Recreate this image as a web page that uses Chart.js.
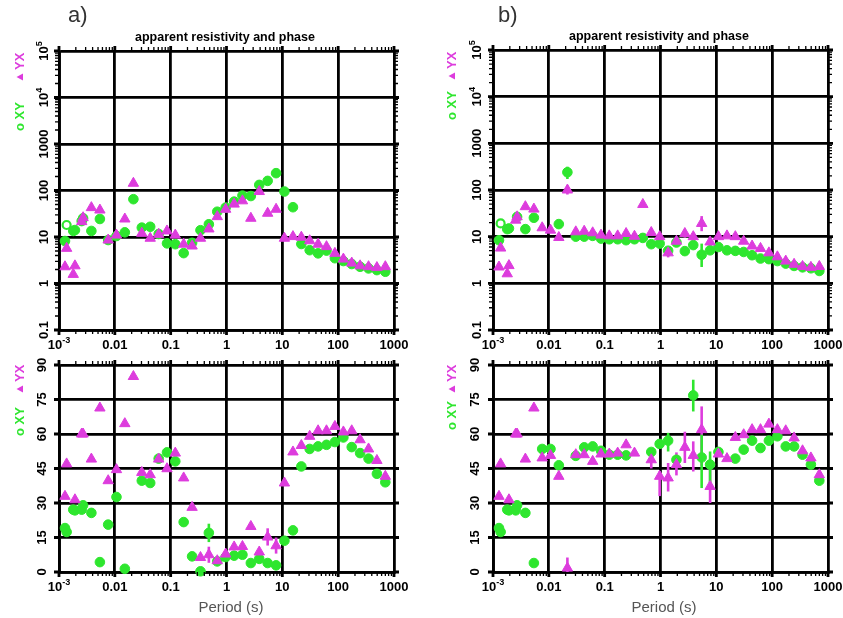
<!DOCTYPE html>
<html lang="en">
<head>
<meta charset="UTF-8" />
<title>Apparent resistivity and phase</title>
<style>
  body { margin: 0; background: #fff; }
  #wrap { position: relative; width: 843px; height: 618px; overflow: hidden; background: #fff; }
  #wrap canvas { position: absolute; }
</style>
</head>
<body>
<div id="wrap">
  <canvas id="aRho" width="420" height="355" style="left:0;top:0"></canvas>
  <canvas id="aPhase" width="420" height="263" style="left:0;top:355px"></canvas>
  <canvas id="bRho" width="423" height="355" style="left:420px;top:0"></canvas>
  <canvas id="bPhase" width="423" height="263" style="left:420px;top:355px"></canvas>
</div>

<script src="https://cdn.jsdelivr.net/npm/chart.js"></script>
<script>
  // axes
  const xTicks = [0.001, 0.01, 0.1, 1, 10, 100, 1000];
  const xTickLabels = ['10^-3', '0.01', '0.1', '1', '10', '100', '1000'];
  const rhoTicks = [0.1, 1, 10, 100, 1000, 10000, 100000];
  const rhoTickLabels = ['0.1', '1', '10', '100', '1000', '10^4', '10^5'];
  const phaseTicks = [0, 15, 30, 45, 60, 75, 90];
  const phaseTickLabels = ['0', '15', '30', '45', '60', '75', '90'];

  // periods (s): main band and the overlapping high-frequency band
  const periods = [0.00128, 0.0018, 0.00255, 0.0038, 0.0054, 0.0076, 0.0107, 0.0151, 0.0215, 0.0304,
    0.043, 0.061, 0.086, 0.121, 0.171, 0.242, 0.342, 0.483, 0.683, 0.966,
    1.37, 1.93, 2.73, 3.86, 5.46, 7.73, 10.9, 15.5, 21.9, 30.9,
    43.7, 61.8, 87.4, 124, 175, 247, 350, 494, 699];
  const periods2 = [0.00137, 0.00193, 0.0027];
  const openPeriod = [0.00137];

  // a) apparent resistivity (ohm m)
  const aRhoXY = [8.2, 13.5, 22, 13.5, 24.4, 8.6, 10.5, 12.6, 65, 15.9,
    16.6, 11.6, 7.3, 7, 4.5, 7.5, 14, 18.8, 35, 43,
    57.6, 77.7, 76, 132, 161, 236, 95, 43.7, 7.07, 5.2,
    4.45, 5.1, 3.5, 3.04, 2.62, 2.29, 2.11, 1.94, 1.79];
  const aRhoXY2 = [null, 14.1, 25.3];
  const aRhoXYOpen = [18.1];
  const aRhoYX = [2.29, 1.57, 21.4, 42.8, 38, 8.6, 11, 24.4, 143, 12,
    9.4, 11.4, 13.5, 11, 7, 6.4, 9.4, 14.9, 27.4, 39.5,
    51, 60, 25.3, 95, 32.4, 39.5, 9.4, 10.2, 9.9, 8.3,
    7, 6.2, 4.45, 3.35, 2.75, 2.4, 2.3, 2.2, 2.3];
  const aRhoYX2 = [5.7, 2.4, 26];

  // a) phase (degrees)
  const aPhaseXY = [19.1, 27.1, 27.1, 25.7, 4.3, 20.6, 32.6, 1.4, null, 39.7,
    38.7, 49.3, 52, 48.1, 21.7, 6.8, 0.3, 17, 4.6, 6.5,
    7.1, 7.5, 3.9, 5.7, 3.9, 2.9, 13.6, 18.1, 45.9, 53.5,
    54.6, 55.3, 56.5, 58.5, 54.3, 51.7, 49.3, 42.7, 39];
  const aPhaseXY2 = [17.4, 26.8, 29];
  const aPhaseYX = [32.9, null, 60, 49.1, 71.3, 39.7, 44.5, 64.5, 85, 43.3,
    42.3, 49.1, 44.9, 51.7, 40.9, 28.1, 6.3, 7.5, 4.9, 7.8,
    10.9, 11.1, 19.8, 8.7, 15.2, 11.4, 38.7, 52.2, 55, 59,
    61.4, 61.4, 63.3, 60.9, 61.4, 57.5, 53.5, 48.5, 41.6];
  const aPhaseYX2 = [47, 31.4, 60];
  const aPhaseXYErrT = [0.483], aPhaseXYErrLo = [13], aPhaseXYErrHi = [21];
  const aPhaseYXErrT = [0.483, 5.46, 7.73], aPhaseYXErrLo = [4, 11.5, 8], aPhaseYXErrHi = [11, 19, 15];

  // b) apparent resistivity (ohm m)
  const bRhoXY = [8.4, 14.5, null, 14.5, 25.4, null, null, 18.6, 240, 10,
    10, 10.4, 9.1, 8.8, 8.8, 8.4, 8.8, 9.4, 6.9, 7.1,
    5, 7.5, 4.9, 6.6, 4.1, 5.1, 6.0, 5.1, 4.96, 4.7,
    4.0, 3.4, 3.3, 3.0, 2.65, 2.36, 2.2, 2.1, 1.84];
  const bRhoXY2 = [null, 15, 26.6];
  const bRhoXYOpen = [19.2];
  const bRhoYX = [2.24, 1.6, 22.6, 43.9, 39, 15.5, 13.8, 9.6, 100, 12.7,
    13.1, 12.1, 10.8, 10.4, 10.4, 11.7, 10.2, 49, 12.3, 10,
    4.5, 8, 11.7, 10, 19.2, 7.7, 10, 10.4, 10, 8,
    6.3, 5.6, 4.5, 3.7, 3.0, 2.56, 2.3, 2.2, 2.3];
  const bRhoYX2 = [5.7, 2.4, 26.6];
  const bRhoXYErrT = [0.0215, 5.46], bRhoXYErrLo = [172, 2.24], bRhoXYErrHi = [316, 7.1];
  const bRhoYXErrT = [0.0215, 1.37, 2.73, 3.86, 5.46, 7.73];
  const bRhoYXErrLo = [80, 3.6, 9.5, 8.3, 13.1, 6.3];
  const bRhoYXErrHi = [125, 5.6, 14, 12, 27.6, 9.3];

  // b) phase (degrees)
  const bPhaseXY = [19.1, 27.1, 26.8, 25.7, 3.9, 53.5, 53.5, 46.4, null, 50.5,
    54.2, 54.6, 52.7, 51, 51, 50.7, null, null, 52.2, 55.7,
    57.1, 48.8, null, 76.8, 49.8, 46.7, 52.2, null, 49.3, 53.2,
    57.1, 53.9, 57.1, 59, 54.6, 54.6, 51, 46.7, 39.7];
  const bPhaseXY2 = [17.4, 26.8, 29];
  const bPhaseYX = [32.9, null, 60, 49.1, 71.3, 49.6, 50.7, 41.6, 1.7, 51,
    51, 48.1, 51.3, 51.3, 51.7, 55.3, 51.7, null, 48.8, 41.6,
    40.9, 46.7, 54.2, 50.7, 61.9, 37.2, 51.3, 49.3, 58.5, 59.7,
    61.9, 61.9, 64.3, 61.9, 61.4, 58.3, 52.7, 49.6, 42.3];
  const bPhaseYX2 = [47, 31.4, 60];
  const bPhaseXYErrT = [1.37, 3.86, 5.46, 7.73];
  const bPhaseXYErrLo = [52.4, 69.8, 36.5, 37.2];
  const bPhaseXYErrHi = [60.5, 83.6, 59.7, 52.4];
  const bPhaseYXErrT = [0.0215, 0.683, 0.966, 1.37, 1.93, 2.73, 3.86, 5.46, 7.73];
  const bPhaseYXErrLo = [0, 45, 33, 35, 42, 47.4, 43.7, 46, 30];
  const bPhaseYXErrHi = [6.3, 52, 43.7, 47.4, 52, 61, 56.8, 72, 45.9];

  const FONT = '"Liberation Sans", Arial, sans-serif';
  const GREEN = '#2ee62e';
  const MAGENTA = '#dd3cdd';

  function pts(per, vals) {
    return per.map((t, i) => ({ x: t, y: vals[i] })).filter(p => p.y !== null);
  }

  function errBars(t, lo, hi, color) {
    return t.map((v, i) => ({
      type: 'line', showLine: true, order: 3, clip: 8,
      data: [{ x: v, y: lo[i] }, { x: v, y: hi[i] }],
      borderColor: color, borderWidth: 2.6, pointRadius: 0
    }));
  }

  function markers(data, color, style, open) {
    return {
      data, order: style === 'circle' ? 2 : 1, clip: 8,
      pointStyle: style,
      pointRadius: style === 'circle' ? (open ? 4 : 4.8) : 6,
      backgroundColor: open ? '#fff' : color,
      borderColor: color,
      borderWidth: open ? 2.2 : 1
    };
  }

  function minorTicks(decades) {
    const out = [];
    for (let i = 0; i < decades.length - 1; i++) {
      for (let m = 2; m <= 9; m++) out.push(decades[i] * m);
    }
    return out;
  }

  // text with an optional superscript, e.g. '10^-3'
  function supText(ctx, label, x, y, size) {
    const parts = label.split('^');
    ctx.font = 'bold ' + size + 'px ' + FONT;
    const wb = ctx.measureText(parts[0]).width;
    let we = 0;
    if (parts[1]) {
      ctx.font = 'bold ' + (size * 0.7) + 'px ' + FONT;
      we = ctx.measureText(parts[1]).width;
    }
    const x0 = x - (wb + we) / 2;
    ctx.textAlign = 'left';
    ctx.textBaseline = 'middle';
    ctx.font = 'bold ' + size + 'px ' + FONT;
    ctx.fillText(parts[0], x0, y);
    if (parts[1]) {
      ctx.font = 'bold ' + (size * 0.7) + 'px ' + FONT;
      ctx.fillText(parts[1], x0 + wb, y - size * 0.38);
    }
  }

  const panelPlugin = {
    id: 'panel',
    afterDraw(chart, args, o) {
      const ctx = chart.ctx, a = chart.chartArea;
      const xs = chart.scales.x, ys = chart.scales.y;
      ctx.save();
      ctx.strokeStyle = '#000';

      // major ticks poking out of the frame
      ctx.lineWidth = 2.8;
      ctx.beginPath();
      xTicks.forEach(v => {
        const px = xs.getPixelForValue(v);
        ctx.moveTo(px, a.top - 5); ctx.lineTo(px, a.top);
        ctx.moveTo(px, a.bottom); ctx.lineTo(px, a.bottom + 5);
      });
      o.yTicks.forEach(v => {
        const py = ys.getPixelForValue(v);
        ctx.moveTo(a.left - 5, py); ctx.lineTo(a.left, py);
        ctx.moveTo(a.right, py); ctx.lineTo(a.right + 5, py);
      });
      ctx.stroke();

      // minor log ticks
      ctx.lineWidth = 1.3;
      ctx.beginPath();
      minorTicks(xTicks).forEach(v => {
        const px = xs.getPixelForValue(v);
        ctx.moveTo(px, a.top - 4); ctx.lineTo(px, a.top);
        ctx.moveTo(px, a.bottom); ctx.lineTo(px, a.bottom + 4);
      });
      if (o.logY) {
        minorTicks(o.yTicks).forEach(v => {
          const py = ys.getPixelForValue(v);
          ctx.moveTo(a.left - 4, py); ctx.lineTo(a.left, py);
          ctx.moveTo(a.right, py); ctx.lineTo(a.right + 4, py);
        });
      }
      ctx.stroke();

      // tick labels
      ctx.fillStyle = '#000';
      xTicks.forEach((v, i) => supText(ctx, xTickLabels[i], xs.getPixelForValue(v), a.bottom + 15, 13));
      o.yTicks.forEach((v, i) => {
        ctx.save();
        ctx.translate(a.left - o.yLabelGap, ys.getPixelForValue(v));
        ctx.rotate(-Math.PI / 2);
        supText(ctx, o.yLabels[i], 0, 0, 13);
        ctx.restore();
      });

      // vertical legend
      ctx.save();
      ctx.translate(o.legend.x, o.legend.y);
      ctx.rotate(-Math.PI / 2);
      ctx.textAlign = 'left';
      ctx.textBaseline = 'middle';
      ctx.font = 'bold 13px ' + FONT;
      ctx.fillStyle = GREEN;
      ctx.fillText('o XY', 0, 0);
      ctx.fillStyle = MAGENTA;
      const t = o.legend.tri;
      ctx.beginPath();
      ctx.moveTo(t, -3.5);
      ctx.lineTo(t + 3.5, 3);
      ctx.lineTo(t - 3.5, 3);
      ctx.closePath();
      ctx.fill();
      ctx.fillText('YX', o.legend.yx, 0);
      ctx.restore();

      if (o.title) {
        ctx.fillStyle = '#000';
        ctx.font = 'bold 12.5px ' + FONT;
        ctx.textAlign = 'center';
        ctx.textBaseline = 'middle';
        ctx.fillText(o.title.text, o.title.x, o.title.y);
      }
      if (o.letter) {
        ctx.fillStyle = '#333';
        ctx.font = '22px ' + FONT;
        ctx.textAlign = 'left';
        ctx.textBaseline = 'middle';
        ctx.fillText(o.letter.text, o.letter.x, o.letter.y);
      }
      if (o.xTitle) {
        ctx.fillStyle = '#555';
        ctx.font = '15px ' + FONT;
        ctx.textAlign = 'center';
        ctx.textBaseline = 'middle';
        ctx.fillText(o.xTitle.text, o.xTitle.x, o.xTitle.y);
      }
      ctx.restore();
    }
  };

  function axis(type, min, max, ticks) {
    return {
      type, min, max,
      afterBuildTicks: s => { s.ticks = ticks.map(v => ({ value: v })); },
      ticks: { display: false },
      grid: { color: '#000', lineWidth: 2.8, drawTicks: false },
      border: { display: true, color: '#000', width: 2.8 }
    };
  }

  function panelChart(id, cfg) {
    const datasets = [
      markers(pts(periods, cfg.xy), GREEN, 'circle'),
      markers(pts(periods2, cfg.xy2), GREEN, 'circle'),
      markers(pts(periods, cfg.yx), MAGENTA, 'triangle'),
      markers(pts(periods2, cfg.yx2), MAGENTA, 'triangle')
    ];
    if (cfg.open) datasets.push(markers(pts(openPeriod, cfg.open), GREEN, 'circle', true));
    if (cfg.xyErr) datasets.push(...errBars(cfg.xyErr[0], cfg.xyErr[1], cfg.xyErr[2], GREEN));
    if (cfg.yxErr) datasets.push(...errBars(cfg.yxErr[0], cfg.yxErr[1], cfg.yxErr[2], MAGENTA));

    const logY = cfg.yType === 'logarithmic';
    return new Chart(document.getElementById(id), {
      type: 'scatter',
      data: { datasets },
      options: {
        responsive: false,
        animation: false,
        events: [],
        layout: { padding: cfg.pad },
        plugins: {
          legend: { display: false },
          tooltip: { enabled: false },
          panel: Object.assign({ logY }, cfg.deco)
        },
        scales: {
          x: axis('logarithmic', 0.001, 1000, xTicks),
          y: axis(cfg.yType, logY ? 0.1 : 0, logY ? 100000 : 90, cfg.deco.yTicks)
        }
      },
      plugins: [panelPlugin]
    });
  }

  panelChart('aRho', {
    yType: 'logarithmic',
    xy: aRhoXY, xy2: aRhoXY2, yx: aRhoYX, yx2: aRhoYX2, open: aRhoXYOpen,
    pad: { left: 59, right: 26, top: 51, bottom: 25 },
    deco: {
      yTicks: rhoTicks, yLabels: rhoTickLabels, yLabelGap: 15,
      legend: { x: 20, y: 131, tri: 54, yx: 61 },
      title: { text: 'apparent resistivity and phase', x: 225, y: 38 },
      letter: { text: 'a)', x: 68, y: 16 }
    }
  });

  panelChart('aPhase', {
    yType: 'linear',
    xy: aPhaseXY, xy2: aPhaseXY2, yx: aPhaseYX, yx2: aPhaseYX2,
    xyErr: [aPhaseXYErrT, aPhaseXYErrLo, aPhaseXYErrHi],
    yxErr: [aPhaseYXErrT, aPhaseYXErrLo, aPhaseYXErrHi],
    pad: { left: 59, right: 26, top: 10, bottom: 46 },
    deco: {
      yTicks: phaseTicks, yLabels: phaseTickLabels, yLabelGap: 17,
      legend: { x: 20, y: 81, tri: 47, yx: 54 },
      xTitle: { text: 'Period (s)', x: 231, y: 253 }
    }
  });

  panelChart('bRho', {
    yType: 'logarithmic',
    xy: bRhoXY, xy2: bRhoXY2, yx: bRhoYX, yx2: bRhoYX2, open: bRhoXYOpen,
    xyErr: [bRhoXYErrT, bRhoXYErrLo, bRhoXYErrHi],
    yxErr: [bRhoYXErrT, bRhoYXErrLo, bRhoYXErrHi],
    pad: { left: 73, right: 15, top: 50, bottom: 25 },
    deco: {
      yTicks: rhoTicks, yLabels: rhoTickLabels, yLabelGap: 16,
      legend: { x: 32, y: 120, tri: 44, yx: 51 },
      title: { text: 'apparent resistivity and phase', x: 239, y: 37 },
      letter: { text: 'b)', x: 78, y: 16 }
    }
  });

  panelChart('bPhase', {
    yType: 'linear',
    xy: bPhaseXY, xy2: bPhaseXY2, yx: bPhaseYX, yx2: bPhaseYX2,
    xyErr: [bPhaseXYErrT, bPhaseXYErrLo, bPhaseXYErrHi],
    yxErr: [bPhaseYXErrT, bPhaseYXErrLo, bPhaseYXErrHi],
    pad: { left: 73, right: 15, top: 10, bottom: 46 },
    deco: {
      yTicks: phaseTicks, yLabels: phaseTickLabels, yLabelGap: 18,
      legend: { x: 32, y: 75, tri: 41, yx: 48 },
      xTitle: { text: 'Period (s)', x: 244, y: 253 }
    }
  });
</script>
</body>
</html>
